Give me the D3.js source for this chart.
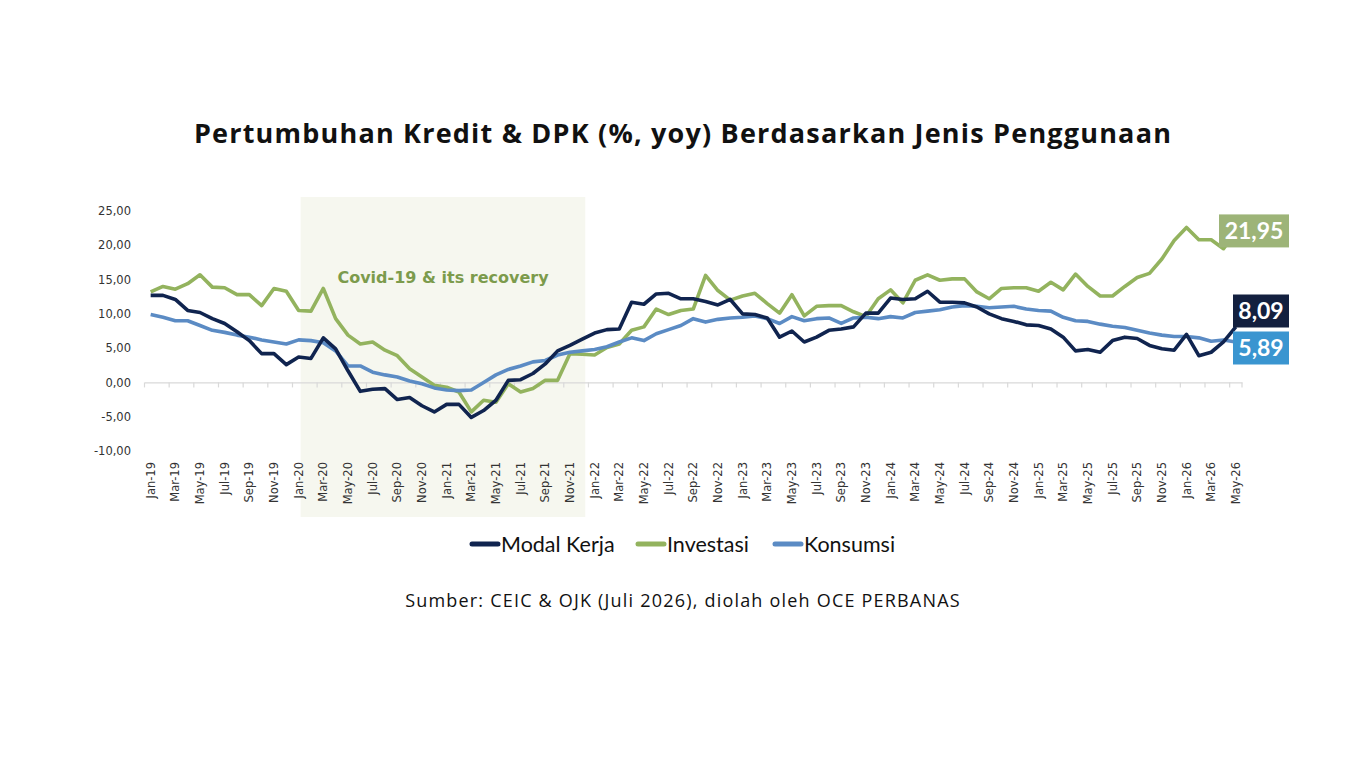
<!DOCTYPE html>
<html>
<head>
<meta charset="utf-8">
<script src="https://cdn.jsdelivr.net/npm/d3@7"></script>
<style>
  body { margin: 0; background: #fff; }
  svg { display: block; }
</style>
</head>
<body>
<div id="chart"></div>
<script>
// months Jan-19 .. May-26
var monthNames = ["Jan", "Feb", "Mar", "Apr", "May", "Jun", "Jul", "Aug", "Sep", "Oct", "Nov", "Dec"];
var months = [];
for (var yr = 19; yr <= 26; yr++) {
  for (var m = 0; m < 12; m++) {
    if (yr === 26 && m > 4) break;
    months.push(monthNames[m] + "-" + yr);
  }
}

// credit growth, % yoy
var modalKerja = [
  12.7, 12.7, 12.1, 10.5, 10.2, 9.3, 8.6, 7.4, 6.1, 4.2, 4.2, 2.6,
  3.7, 3.5, 6.5, 4.9, 1.7, -1.3, -1.0, -0.9, -2.5, -2.2, -3.4, -4.3,
  -3.2, -3.2, -5.1, -4.1, -2.6, 0.3, 0.4, 1.3, 2.7, 4.6, 5.4, 6.3,
  7.2, 7.7, 7.8, 11.7, 11.4, 12.9, 13.0, 12.2, 12.2, 11.8, 11.3, 12.1,
  10.0, 9.9, 9.4, 6.6, 7.5, 5.9, 6.6, 7.6, 7.8, 8.1, 10.1, 10.1,
  12.3, 12.1, 12.2, 13.3, 11.7, 11.7, 11.6, 11.0, 10.0, 9.3, 8.9, 8.4,
  8.3, 7.8, 6.6, 4.6, 4.8, 4.4, 6.1, 6.6, 6.4, 5.4, 4.9, 4.7,
  7.0, 3.9, 4.4, 5.9, 8.09
];
var investasi = [
  13.2, 14.0, 13.6, 14.4, 15.7, 13.9, 13.8, 12.8, 12.8, 11.2, 13.7, 13.3,
  10.5, 10.4, 13.7, 9.3, 6.9, 5.6, 5.9, 4.7, 3.9, 2.0, 0.8, -0.4,
  -0.7, -1.4, -4.3, -2.6, -2.9, -0.2, -1.4, -0.9, 0.3, 0.3, 4.2, 4.1,
  4.0, 5.1, 5.6, 7.6, 8.1, 10.7, 9.9, 10.5, 10.7, 15.6, 13.4, 12.0,
  12.6, 13.0, 11.5, 10.1, 12.8, 9.7, 11.1, 11.2, 11.2, 10.3, 9.6, 12.2,
  13.5, 11.6, 14.9, 15.7, 14.9, 15.1, 15.1, 13.2, 12.2, 13.7, 13.8, 13.8,
  13.3, 14.6, 13.5, 15.8, 14.0, 12.6, 12.6, 14.0, 15.3, 15.9, 18.0, 20.7,
  22.6, 20.8, 20.8, 19.5, 21.95
];
var konsumsi = [
  9.9, 9.5, 9.0, 9.0, 8.3, 7.6, 7.3, 6.9, 6.6, 6.2, 5.9, 5.6,
  6.2, 6.1, 5.8, 4.6, 2.4, 2.4, 1.5, 1.1, 0.8, 0.2, -0.2, -0.8,
  -1.1, -1.2, -1.1, 0.0, 1.1, 1.9, 2.4, 3.0, 3.2, 4.0, 4.4, 4.6,
  4.8, 5.2, 5.9, 6.5, 6.1, 7.1, 7.7, 8.3, 9.3, 8.8, 9.2, 9.4,
  9.5, 9.7, 9.3, 8.6, 9.6, 9.0, 9.3, 9.4, 8.6, 9.4, 9.5, 9.3,
  9.6, 9.4, 10.2, 10.4, 10.6, 11.0, 11.2, 11.1, 10.9, 11.0, 11.1, 10.7,
  10.5, 10.4, 9.5, 9.0, 8.9, 8.5, 8.2, 8.0, 7.6, 7.2, 6.9, 6.7,
  6.7, 6.5, 6.0, 6.2, 5.89
];
var yTicks = [-10, -5, 0, 5, 10, 15, 20, 25];

var seriesNames = ["Modal Kerja", "Investasi", "Konsumsi"];
var seriesColors = ["#10244f", "#93b35e", "#5b8bc4"];
var labelBoxColors = ["#13203f", "#9db478", "#3a95d0"];
var allSeries = [modalKerja, investasi, konsumsi];

var W = 1366, H = 768;
var svg = d3.select("#chart").append("svg")
  .attr("width", W).attr("height", H);

var x = d3.scaleBand().domain(months).range([144.5, 1242]).paddingInner(0).paddingOuter(0);
var y = d3.scaleLinear().domain([-10, 25]).range([451, 211]);
function cx(i) { return x(months[i]) + x.bandwidth() / 2; }

// title
svg.append("text")
  .attr("x", 683).attr("y", 143)
  .attr("text-anchor", "middle")
  .style("font-family", "'Open Sans', sans-serif")
  .style("font-weight", "700")
  .style("font-size", "27px")
  .style("letter-spacing", "1.2px")
  .style("fill", "#111")
  .text("Pertumbuhan Kredit & DPK (%, yoy) Berdasarkan Jenis Penggunaan");

// covid shading: Jan-20 .. Dec-21
svg.append("rect")
  .attr("x", cx(months.indexOf("Jan-20")) + 2)
  .attr("y", 197)
  .attr("width", cx(months.indexOf("Dec-21")) + 3 - cx(months.indexOf("Jan-20")) - 2)
  .attr("height", 320)
  .attr("fill", "#f6f7ef");

svg.append("text")
  .attr("x", 443).attr("y", 283)
  .attr("text-anchor", "middle")
  .style("font-family", "'DejaVu Sans', Verdana, sans-serif")
  .style("font-weight", "700")
  .style("font-size", "16px")
  .style("fill", "#7c9b4c")
  .text("Covid-19 & its recovery");

// y axis labels
var yAxis = svg.append("g")
  .attr("transform", "translate(131,0)")
  .call(d3.axisLeft(y).tickValues(yTicks).tickSize(0).tickPadding(0)
    .tickFormat(function(d) { return d3.format(".2f")(d).replace(".", ",").replace("−", "-"); }));
yAxis.select(".domain").remove();
yAxis.selectAll("text")
  .style("font-family", "'DejaVu Sans', Verdana, sans-serif")
  .style("font-size", "11.5px")
  .style("fill", "#333");

// zero line with ticks between every 2 categories
var xAxis = svg.append("g")
  .attr("transform", "translate(0," + y(0) + ")")
  .call(d3.axisBottom(x).tickValues([]).tickSizeOuter(0));
xAxis.select(".domain").attr("stroke", "#d9d9d9").attr("stroke-width", 1.2);
xAxis.selectAll(".btick")
  .data(months.filter(function(d, i) { return i % 2 === 0; }).concat(["__end"]))
  .enter().append("line")
  .attr("class", "btick")
  .attr("x1", function(d) { return d === "__end" ? x.range()[1] : x(d); })
  .attr("x2", function(d) { return d === "__end" ? x.range()[1] : x(d); })
  .attr("y1", 0).attr("y2", 5)
  .attr("stroke", "#d9d9d9").attr("stroke-width", 1.2);

// category labels along bottom
var labAxis = svg.append("g")
  .attr("transform", "translate(0,458)")
  .call(d3.axisBottom(x)
    .tickValues(months.filter(function(d, i) { return i % 2 === 0; }))
    .tickSize(0).tickPadding(0));
labAxis.select(".domain").remove();
labAxis.selectAll("text")
  .attr("transform", "rotate(-90)")
  .attr("x", -4).attr("y", 0).attr("dy", "0.35em")
  .attr("text-anchor", "end")
  .style("font-family", "'DejaVu Sans', Verdana, sans-serif")
  .style("font-size", "11.5px")
  .style("fill", "#333");

// lines
var line = d3.line()
  .x(function(d, i) { return cx(i); })
  .y(function(d) { return y(d); });

[1, 2, 0].forEach(function(k) {
  svg.append("path")
    .datum(allSeries[k])
    .attr("d", line)
    .attr("fill", "none")
    .attr("stroke", seriesColors[k])
    .attr("stroke-width", 3.6)
    .attr("stroke-linejoin", "round");
});

// end value boxes
var fmt = function(v) { return d3.format(".2f")(v).replace(".", ","); };
var last = months.length - 1;
var endLabels = [
  {k: 1, x0: 1219, yc: y(investasi[last]) - 1},
  {k: 0, x0: 1233, yc: 311},
  {k: 2, x0: 1233, yc: 348}
];
endLabels.forEach(function(o) {
  var w = 1289 - o.x0, h = 33;
  svg.append("rect")
    .attr("x", o.x0).attr("y", o.yc - h / 2)
    .attr("width", w).attr("height", h)
    .attr("fill", labelBoxColors[o.k]);
  svg.append("text")
    .attr("x", o.x0 + w / 2).attr("y", o.yc + 8)
    .attr("text-anchor", "middle")
    .style("font-family", "Lato, sans-serif")
    .style("font-weight", "700")
    .style("font-size", "23px")
    .style("fill", "#fff")
    .text(fmt(allSeries[o.k][last]));
});

// legend
var legendX = [470, 636, 773];
seriesNames.forEach(function(name, k) {
  var g = svg.append("g").attr("transform", "translate(" + legendX[k] + ",544)");
  g.append("line")
    .attr("x1", 2).attr("x2", 28).attr("y1", 0).attr("y2", 0)
    .attr("stroke", seriesColors[k]).attr("stroke-width", 5)
    .attr("stroke-linecap", "round");
  g.append("text")
    .attr("x", 31).attr("y", 7.5)
    .style("font-family", "Lato, sans-serif")
    .style("font-size", "21.5px")
    .style("fill", "#111")
    .text(name);
});

// source
svg.append("text")
  .attr("x", 683).attr("y", 607)
  .attr("text-anchor", "middle")
  .style("font-family", "'Open Sans', sans-serif")
  .style("font-size", "18px")
  .style("letter-spacing", "1.2px")
  .style("fill", "#111")
  .text("Sumber: CEIC & OJK (Juli 2026), diolah oleh OCE PERBANAS");
</script>
</body>
</html>
